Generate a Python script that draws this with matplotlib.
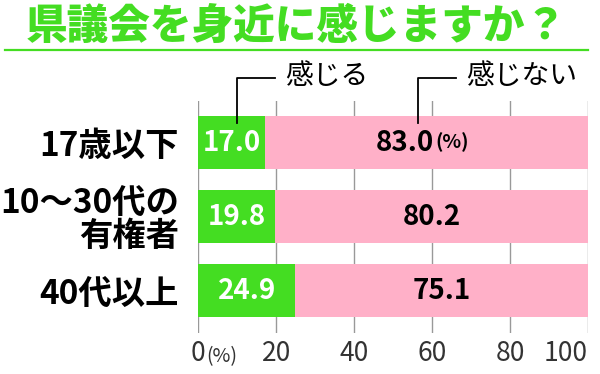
import matplotlib
matplotlib.use("Agg")
import matplotlib.pyplot as plt
from matplotlib.lines import Line2D

plt.rcParams['font.family'] = ['Noto Sans CJK JP', 'DejaVu Sans']

title = "県議会を身近に感じますか？"
groups = ["17歳以下", "10〜30代の\n有権者", "40代以上"]
feel = [17.0, 19.8, 24.9]
not_feel = [83.0, 80.2, 75.1]
series_names = ["感じる", "感じない"]
xticks = [0, 20, 40, 60, 80, 100]

green = "#44dd22"
pink = "#ffb0c8"

fig = plt.figure(figsize=(6, 3.74), dpi=100)
ax = fig.add_axes([0.3305, 0.1096, 0.6495, 0.6211])

y = list(range(len(groups)))
ax.barh(y, feel, height=0.72, color=green, zorder=2)
ax.barh(y, not_feel, left=feel, height=0.72, color=pink, zorder=2)

# value labels
for i, (a, b) in enumerate(zip(feel, not_feel)):
    ax.text(a / 2, i, f"{a:.1f}", ha="center", va="center",
            color="white", fontsize=20, fontweight="bold", zorder=3)
    if i == 0:
        t = ax.text(a + b / 2 - 5.5, i, f"{b:.1f}", ha="center", va="center",
                    color="black", fontsize=20, fontweight="bold", zorder=3)
        ax.annotate("(%)", xy=(1, 0.18), xycoords=t, xytext=(1, 0),
                    textcoords="offset points", ha="left", va="bottom",
                    fontsize=14, fontweight="bold", zorder=3)
    else:
        ax.text(a + b / 2, i, f"{b:.1f}", ha="center", va="center",
                color="black", fontsize=20, fontweight="bold", zorder=3)

ax.set_xlim(0, 100)
ax.set_ylim(2.575, -0.568)
ax.set_xticks(xticks)
ax.set_xticklabels([str(v) for v in xticks], fontsize=19, color="#333333")
xlabs = ax.get_xticklabels()
xlabs[-1].set_horizontalalignment("right")
ax.set_yticks(y)
ax.set_yticklabels(groups, fontsize=24, fontweight="bold")
for lab in ax.get_yticklabels():
    lab.set_linespacing(1.0)
ax.tick_params(axis="both", length=0)
ax.tick_params(axis="y", pad=14)
ax.tick_params(axis="x", pad=5)
ax.grid(axis="x", color="#999999", linewidth=1, zorder=0)
ax.set_axisbelow(True)
for s in ax.spines.values():
    s.set_visible(False)

# "(%)" next to the zero tick
ax.annotate("(%)", xy=(0, 0), xycoords="axes fraction", xytext=(6, -17),
            textcoords="offset points", ha="left", va="center",
            fontsize=14, color="#333333", annotation_clip=False)

# series labels with leader lines
leader_x = [10.0, 56.4]
for name, lx in zip(series_names, leader_x):
    ax.plot([lx, lx, lx + 9.7], [-0.267, -0.871, -0.871], color="black",
            linewidth=1.3, clip_on=False, zorder=4)
    ax.text(lx + 12.3, -0.903, name, ha="left", va="center", fontsize=20,
            color="black", clip_on=False)

# title and rule
fig.text(0.493, 1 - 39 / 374, title, ha="center", va="baseline", fontsize=30,
         fontweight="heavy", color=green)
fig.add_artist(Line2D([5 / 600, 588 / 600], [1 - 50 / 374, 1 - 50 / 374],
                      color=green, linewidth=1.6))

fig.savefig("out.png", dpi=100)
